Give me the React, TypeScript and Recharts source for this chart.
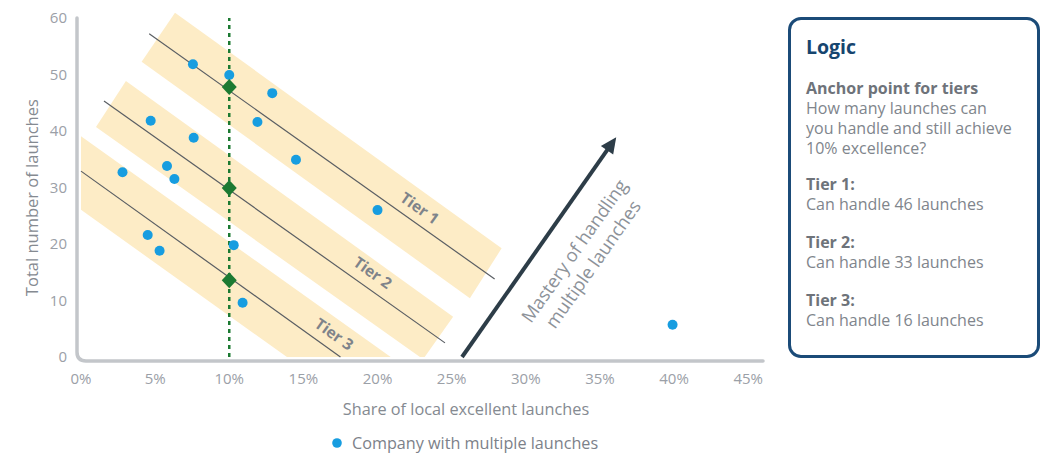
import React from 'react';
import { ScatterChart, Scatter, XAxis, YAxis, Legend } from 'recharts';

// ---------- data (in chart units) ----------
const xTicks = [0, 5, 10, 15, 20, 25, 30, 35, 40, 45];
const yTicks = [0, 10, 20, 30, 40, 50, 60];

const companyPoints = [
  { x: 7.55, y: 51.8 },
  { x: 10.0, y: 49.9 },
  { x: 12.9, y: 46.7 },
  { x: 4.7, y: 41.8 },
  { x: 11.9, y: 41.6 },
  { x: 7.6, y: 38.8 },
  { x: 14.5, y: 34.9 },
  { x: 2.8, y: 32.7 },
  { x: 5.8, y: 33.8 },
  { x: 6.3, y: 31.5 },
  { x: 20.0, y: 26.0 },
  { x: 4.5, y: 21.6 },
  { x: 5.3, y: 18.8 },
  { x: 10.3, y: 19.8 },
  { x: 10.9, y: 9.6 },
  { x: 39.9, y: 5.7 },
];

const anchorPoints = [
  { x: 10, y: 47.8 },
  { x: 10, y: 29.9 },
  { x: 10, y: 13.6 },
];

const tier1Line = [{ x: 4.6, y: 57.2 }, { x: 27.9, y: 13.8 }];
const tier2Line = [{ x: 1.55, y: 45.3 }, { x: 24.55, y: 2.5 }];
const tier3Line = [{ x: 0, y: 32.9 }, { x: 17.5, y: 0 }];

const band1 = [
  { x: 6.34, y: 60.94 },
  { x: 28.37, y: 19.24 },
  { x: 26.23, y: 10.39 },
  { x: 4.09, y: 52.27 },
];
const band2 = [
  { x: 3.03, y: 48.85 },
  { x: 25.1, y: 7.13 },
  { x: 23.18, y: 0 },
  { x: 22.86, y: 0 },
  { x: 1.01, y: 40.71 },
];
const band3 = [
  { x: 0, y: 39.06 },
  { x: 20.89, y: 0 },
  { x: 13.89, y: 0 },
  { x: 0, y: 26.04 },
];

const tierLabels = [
  { x: 22.86, y: 26.4, label: 'Tier 1' },
  { x: 19.7, y: 15.0, label: 'Tier 2' },
  { x: 17.1, y: 4.1, label: 'Tier 3' },
];

const excellenceLine = [{ x: 10, y: 0 }, { x: 10, y: 60 }];
const masteryArrow = [{ x: 25.7, y: 0 }, { x: 36.1, y: 38.9 }];
const axisFrame = [{ x: 0, y: 60 }, { x: 0, y: 0 }, { x: 46, y: 0 }];

const masteryText = ['Mastery of handling', 'multiple launches'];

const logicAnchorLines = ['How many launches can', 'you handle and still achieve', '10% excellence?'];

const logicTiers = [
  { title: 'Tier 1:', text: 'Can handle 46 launches' },
  { title: 'Tier 2:', text: 'Can handle 33 launches' },
  { title: 'Tier 3:', text: 'Can handle 16 launches' },
];

// ---------- styles ----------
const FONT = '"Open Sans", "Noto Sans", sans-serif';
const BLUE = '#179de0';
const GREEN = '#1c7a32';
const BEIGE = '#fdecc6';
const TICK_GRAY = '#9ba0a7';
const TITLE_GRAY = '#858a91';

// ---------- renderers ----------
const hiddenShape = () => <g />;

const polygonLine = (fill: string) => (props: any) => {
  const pts = props.points || [];
  if (!pts.length) return <g />;
  const d = pts.map((p: any, i: number) => `${i ? 'L' : 'M'}${p.x},${p.y}`).join(' ') + ' Z';
  return <path d={d} fill={fill} stroke="none" />;
};

const strokeLine = (stroke: string, width: number, dash?: string) => (props: any) => {
  const pts = props.points || [];
  if (!pts.length) return <g />;
  const d = pts.map((p: any, i: number) => `${i ? 'L' : 'M'}${p.x},${p.y}`).join(' ');
  return <path d={d} fill="none" stroke={stroke} strokeWidth={width} strokeDasharray={dash} />;
};

const frameLine = (props: any) => {
  const pts = props.points || [];
  if (pts.length < 3) return <g />;
  const off = 4;
  const r = 9;
  const x0 = pts[0].x - off;
  const yTop = pts[0].y;
  const yb = pts[1].y + off;
  const xEnd = pts[2].x;
  const d = `M${x0},${yTop} L${x0},${yb - r} Q${x0},${yb} ${x0 + r},${yb} L${xEnd},${yb}`;
  return <path d={d} fill="none" stroke="#c3c6ca" strokeWidth={3.5} strokeLinecap="round" />;
};

const arrowLine = (props: any) => {
  const pts = props.points || [];
  if (pts.length < 2) return <g />;
  const a = pts[0];
  const b = pts[1];
  const dx = b.x - a.x;
  const dy = b.y - a.y;
  const len = Math.sqrt(dx * dx + dy * dy);
  const ux = dx / len;
  const uy = dy / len;
  const vx = -uy;
  const vy = ux;
  const head = 16;
  const hw = 7.5;
  const bx = b.x - ux * head;
  const by = b.y - uy * head;
  const mx = (a.x + b.x) / 2;
  const my = (a.y + b.y) / 2;
  const ang = (Math.atan2(uy, ux) * 180) / Math.PI;
  const offs = [30, 53];
  return (
    <g>
      <line x1={a.x} y1={a.y} x2={bx + ux * 2} y2={by + uy * 2} stroke="#2d3d48" strokeWidth={4} />
      <polygon
        points={`${b.x},${b.y} ${bx + vx * hw},${by + vy * hw} ${bx - vx * hw},${by - vy * hw}`}
        fill="#2d3d48"
      />
      {masteryText.map((t, i) => {
        const cx = mx + ux * 17 + vx * offs[i];
        const cy = my + uy * 17 + vy * offs[i];
        return (
          <text
            key={t}
            x={cx}
            y={cy}
            transform={`rotate(${ang} ${cx} ${cy})`}
            textAnchor="middle"
            dominantBaseline="central"
            fontSize={18.3}
            fill="#8d9299"
          >
            {t}
          </text>
        );
      })}
    </g>
  );
};

const companyShape = (p: any) => <circle cx={p.cx} cy={p.cy} r={5} fill={BLUE} />;

const diamondShape = (p: any) => (
  <polygon
    points={`${p.cx},${p.cy - 8} ${p.cx + 7.5},${p.cy} ${p.cx},${p.cy + 8} ${p.cx - 7.5},${p.cy}`}
    fill={GREEN}
  />
);

const tierLabelShape = (p: any) => (
  <text
    x={p.cx}
    y={p.cy}
    transform={`rotate(35.4 ${p.cx} ${p.cy})`}
    textAnchor="middle"
    dominantBaseline="central"
    fontSize={15.5}
    fontWeight={700}
    fill="#7e838a"
  >
    {p.payload ? p.payload.label : ''}
  </text>
);

const renderXTitle = (props: any) => {
  const vb = props.viewBox || { x: 81, y: 357, width: 682, height: 30 };
  return (
    <text
      x={vb.x + vb.width / 2 + 44}
      y={vb.y + 52}
      textAnchor="middle"
      dominantBaseline="central"
      fontSize={16.3}
      fill={TITLE_GRAY}
    >
      Share of local excellent launches
    </text>
  );
};

const renderYTitle = (props: any) => {
  const vb = props.viewBox || { x: 0, y: 12, width: 81, height: 345 };
  const cx = vb.x + 32;
  const cy = vb.y + vb.height / 2 + 13;
  return (
    <text
      x={cx}
      y={cy}
      transform={`rotate(-90 ${cx} ${cy})`}
      textAnchor="middle"
      dominantBaseline="central"
      fontSize={16.5}
      fill={TITLE_GRAY}
    >
      Total number of launches
    </text>
  );
};

const renderLegend = () => (
  <div style={{ display: 'flex', alignItems: 'center', height: 20, fontSize: 16.2, color: '#7c8189', fontFamily: FONT }}>
    <svg width={10} height={10} style={{ display: 'block' }}>
      <circle cx={5} cy={5} r={4.8} fill={BLUE} />
    </svg>
    <span style={{ marginLeft: 10, lineHeight: '20px', whiteSpace: 'nowrap' }}>Company with multiple launches</span>
  </div>
);

const LogicBox = () => (
  <div
    style={{
      position: 'absolute',
      left: 788,
      top: 17,
      width: 252,
      height: 341,
      boxSizing: 'border-box',
      border: '3px solid #1b4b78',
      borderRadius: 13,
      padding: '15px 6px 0 15px',
      fontFamily: FONT,
      whiteSpace: 'nowrap',
    }}
  >
    <div style={{ fontSize: 19.5, fontWeight: 700, color: '#16456f', lineHeight: '24px' }}>Logic</div>
    <div style={{ marginTop: 19, fontSize: 16, lineHeight: '20px', color: '#80858c' }}>
      <div style={{ fontWeight: 700, color: '#6e737a' }}>Anchor point for tiers</div>
      {logicAnchorLines.map((l) => (
        <div key={l}>{l}</div>
      ))}
    </div>
    {logicTiers.map((t, i) => (
      <div key={t.title} style={{ marginTop: i === 0 ? 16 : 18, fontSize: 16, lineHeight: '20px', color: '#80858c' }}>
        <div style={{ fontWeight: 700, color: '#6e737a' }}>{t.title}</div>
        <div>{t.text}</div>
      </div>
    ))}
  </div>
);

export default function App() {
  return (
    <div
      style={{
        position: 'absolute',
        left: 0,
        top: 0,
        width: 1041,
        height: 453,
        background: '#ffffff',
        fontFamily: FONT,
        overflow: 'hidden',
      }}
    >
      <div style={{ position: 'absolute', left: 0, top: 0 }}>
        <ScatterChart width={780} height={453} margin={{ top: 12.35, right: 17, bottom: 66, left: 0 }}>
          <XAxis
            type="number"
            dataKey="x"
            domain={[0, 46]}
            ticks={xTicks}
            tickFormatter={(v: number) => `${v}%`}
            axisLine={false}
            tickLine={false}
            tickSize={0}
            tickMargin={16}
            height={30}
            interval={0}
            tick={{ fill: TICK_GRAY, fontSize: 15 }}
            label={{ content: renderXTitle }}
          />
          <YAxis
            type="number"
            dataKey="y"
            domain={[0, 61]}
            ticks={yTicks}
            axisLine={false}
            tickLine={false}
            tickSize={0}
            tickMargin={14}
            width={81}
            interval={0}
            tick={{ fill: TICK_GRAY, fontSize: 15 }}
            label={{ content: renderYTitle }}
          />
          <Legend
            layout="horizontal"
            verticalAlign="middle"
            align="center"
            content={renderLegend}
            wrapperStyle={{ left: 332, top: 433, width: 320, height: 20 }}
          />
          <Scatter data={band1} shape={hiddenShape} line={polygonLine(BEIGE)} isAnimationActive={false} legendType="none" />
          <Scatter data={band2} shape={hiddenShape} line={polygonLine(BEIGE)} isAnimationActive={false} legendType="none" />
          <Scatter data={band3} shape={hiddenShape} line={polygonLine(BEIGE)} isAnimationActive={false} legendType="none" />
          <Scatter data={tier1Line} shape={hiddenShape} line={strokeLine('#5a5e63', 1.2)} isAnimationActive={false} legendType="none" />
          <Scatter data={tier2Line} shape={hiddenShape} line={strokeLine('#5a5e63', 1.2)} isAnimationActive={false} legendType="none" />
          <Scatter data={tier3Line} shape={hiddenShape} line={strokeLine('#5a5e63', 1.2)} isAnimationActive={false} legendType="none" />
          <Scatter data={tierLabels} shape={tierLabelShape} isAnimationActive={false} legendType="none" />
          <Scatter
            data={excellenceLine}
            shape={hiddenShape}
            line={strokeLine(GREEN, 2.5, '4 4')}
            isAnimationActive={false}
            legendType="none"
          />
          <Scatter
            name="Company with multiple launches"
            data={companyPoints}
            shape={companyShape}
            fill={BLUE}
            isAnimationActive={false}
          />
          <Scatter data={anchorPoints} shape={diamondShape} isAnimationActive={false} legendType="none" />
          <Scatter data={masteryArrow} shape={hiddenShape} line={arrowLine} isAnimationActive={false} legendType="none" />
          <Scatter data={axisFrame} shape={hiddenShape} line={frameLine} isAnimationActive={false} legendType="none" />
        </ScatterChart>
      </div>
      <LogicBox />
    </div>
  );
}
